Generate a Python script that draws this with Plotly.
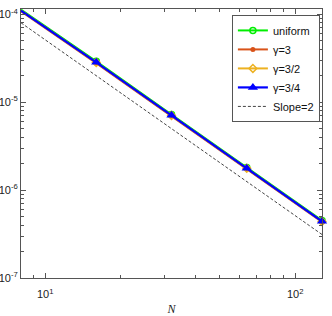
import plotly.graph_objects as go

N = [8, 16, 32, 64, 128]
err_uniform = [1.13e-4, 2.92e-5, 7.25e-6, 1.81e-6, 4.52e-7]
err_g3 = [1.08e-4, 2.78e-5, 6.95e-6, 1.74e-6, 4.33e-7]
err_g32 = [1.10e-4, 2.83e-5, 7.05e-6, 1.77e-6, 4.40e-7]
err_g34 = [1.10e-4, 2.84e-5, 7.08e-6, 1.77e-6, 4.42e-7]
slope_ref = [8.0e-5, 2.0e-5, 5.0e-6, 1.25e-6, 3.125e-7]

x_tickvals = [10, 100]
x_ticktext = ["10<sup>1</sup>", "10<sup>2</sup>"]
y_tickvals = [1e-7, 1e-6, 1e-5, 1e-4]
y_ticktext = ["10<sup>-7</sup>", "10<sup>-6</sup>", "10<sup>-5</sup>", "10<sup>-4</sup>"]
x_minor = [9, 20, 30, 40, 50, 60, 70, 80, 90]
y_minor = [m * 10.0 ** e for e in (-7, -6, -5) for m in range(2, 10)]

fig = go.Figure()
fig.add_trace(go.Scatter(x=N, y=err_uniform, name="uniform", mode="lines+markers", cliponaxis=False,
                         line=dict(color="#00ee00", width=2),
                         marker=dict(symbol="circle-open", size=6, color="#00ee00", line=dict(width=1.5))))
fig.add_trace(go.Scatter(x=N, y=err_g3, name="γ=3", mode="lines+markers", cliponaxis=False,
                         line=dict(color="#D95319", width=2),
                         marker=dict(symbol="circle", size=5, color="#D95319")))
fig.add_trace(go.Scatter(x=N, y=err_g32, name="γ=3/2", mode="lines+markers", cliponaxis=False,
                         line=dict(color="#EDB120", width=2),
                         marker=dict(symbol="diamond-open", size=6, color="#EDB120", line=dict(width=1.5))))
fig.add_trace(go.Scatter(x=N, y=err_g34, name="γ=3/4", mode="lines+markers", cliponaxis=False,
                         line=dict(color="#0000ff", width=2.2),
                         marker=dict(symbol="triangle-up", size=9, color="#0000ff")))
fig.add_trace(go.Scatter(x=N, y=slope_ref, name="Slope=2", mode="lines",
                         line=dict(color="#444444", width=1, dash="3px,2px")))

axis_common = dict(
    type="log", showgrid=False, zeroline=False, automargin=False,
    showline=True, linecolor="#555555", linewidth=1, mirror="ticks",
    ticks="inside", ticklen=5, tickcolor="#555555",
    tickfont=dict(family="Liberation Sans, Arial", size=11, color="#222222"),
)

fig.update_xaxes(**axis_common, range=[0.90309, 2.10721],
                 tickvals=x_tickvals, ticktext=x_ticktext, ticklabelstandoff=6,
                 minor=dict(ticks="inside", ticklen=3, tickcolor="#555555", showgrid=False, tickvals=x_minor),
                 title=dict(text="<i>N</i>", font=dict(family="Liberation Serif, Times New Roman", size=12, color="#222222"),
                            standoff=8))
fig.update_yaxes(**axis_common, range=[-7, -3.94],
                 tickvals=y_tickvals, ticktext=y_ticktext, ticklabelstandoff=0,
                 minor=dict(ticks="inside", ticklen=3, tickcolor="#555555", showgrid=False, tickvals=y_minor))

fig.update_layout(
    width=332, height=316,
    margin=dict(l=21, r=10, t=9, b=38),
    paper_bgcolor="white", plot_bgcolor="white",
    showlegend=True,
    legend=dict(x=0.993, y=0.978, xanchor="right", yanchor="top",
                bgcolor="white", bordercolor="#555555", borderwidth=1,
                font=dict(family="Liberation Sans, Arial", size=11, color="#111111"),
                tracegroupgap=0, itemwidth=30),
)

fig.write_html("out.html", config={"displayModeBar": False},
               post_script="document.body.style.margin='0px';")
